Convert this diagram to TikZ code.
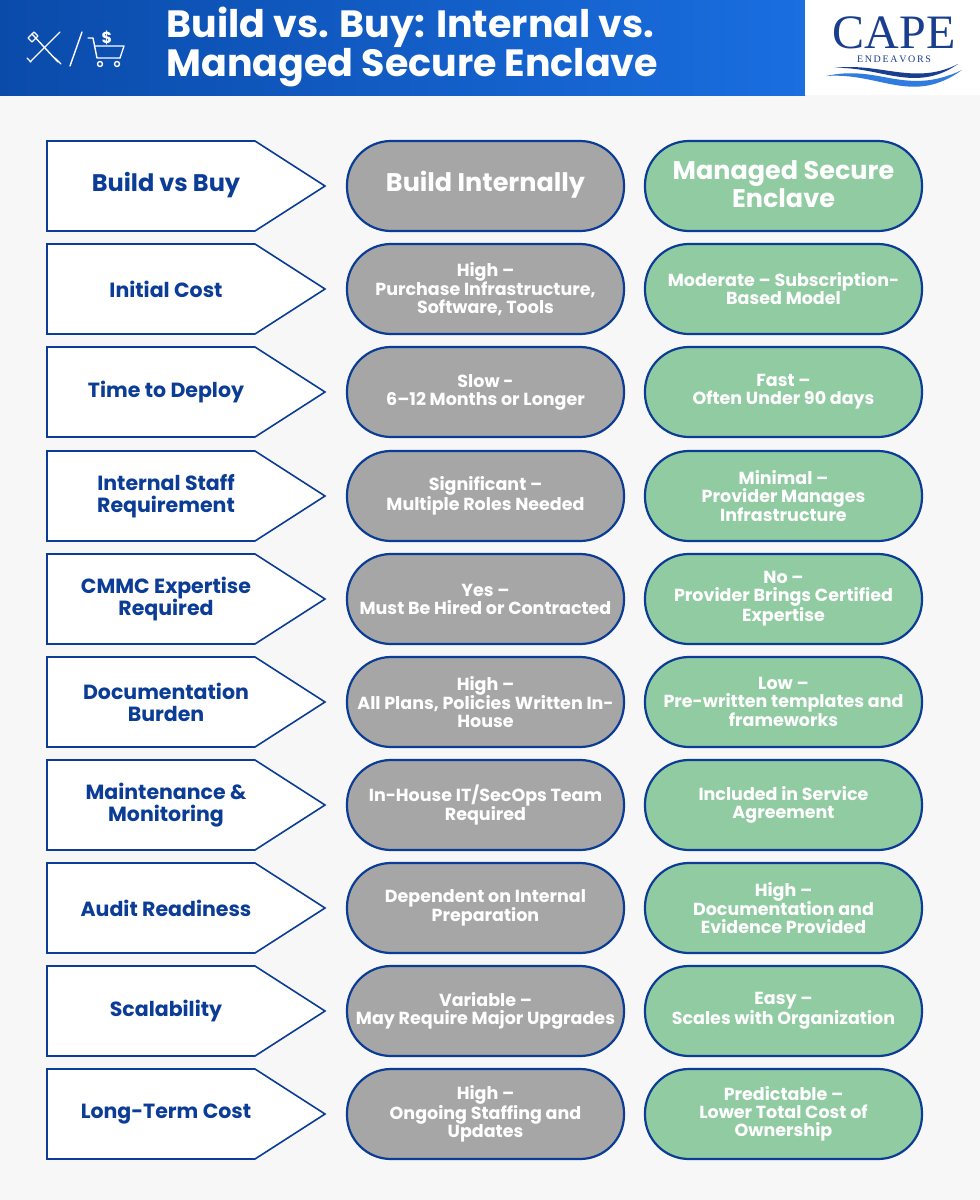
\documentclass[tikz,border=0pt]{standalone}
\usepackage{fontspec}
\setmainfont{Poppins}
\newfontfamily\seriflogo{Liberation Serif}
\usetikzlibrary{shapes.geometric}
\definecolor{navy}{HTML}{0B3C96}
\definecolor{pillgray}{HTML}{A6A6A6}
\definecolor{pillgreen}{HTML}{90CBA2}
\definecolor{bgc}{HTML}{F7F7F7}
\definecolor{hdrL}{HTML}{0A4BAA}
\definecolor{hdrR}{HTML}{1A6EE0}
\definecolor{logoblue}{HTML}{1A3E8F}
\definecolor{wave}{HTML}{2F7BE0}
\begin{document}
\begin{tikzpicture}[x=1pt,y=-1pt,
  lbl/.style={text=navy,font=\bfseries\fontsize{20.5}{22}\selectfont,align=center},
  pilltxt/.style={text=white,font=\bfseries\fontsize{17.5}{18}\selectfont,align=center},
  pillbox/.style={draw=navy,line width=2.2pt,rounded corners=44pt},
  arrowbox/.style={draw=navy,line width=1.6pt,fill=white,line join=miter}]
\useasboundingbox (0,0) rectangle (980,1200);
\fill[bgc] (0,0) rectangle (980,1200);
\shade[left color=hdrL,right color=hdrR] (0,0) rectangle (805,95);
\fill[white] (805,0) rectangle (980,95);
\node[text=white,font=\bfseries\fontsize{38}{38}\selectfont,align=left,anchor=west] (title) at (163,47) {Build vs. Buy: Internal vs.\\Managed Secure Enclave};
% icons
\begin{scope}[draw=white,line width=1.4pt,line cap=round,line join=round]
\draw (30,62) -- (60,32); \draw (27,58) -- (31,62);
\draw (32,34) -- (58,62); \draw (28,38) -- (34,32) -- (38,36) -- (32,42) -- cycle;
\draw (55,58) -- (61,64) ;
\draw (70,66) -- (82,32);
\draw (88,38) -- (93,38) -- (97,58) -- (120,58);
\draw (95,46) -- (124,46) -- (120,58);
\draw (100,64) circle (2.5); \draw (117,64) circle (2.5);
\end{scope}
\node[text=white,font=\bfseries\fontsize{16}{16}\selectfont] (dollar) at (107,38) {\$};
% logo
\node[text=logoblue,font=\seriflogo\fontsize{48}{48}\selectfont,inner sep=0pt,anchor=base] (cape) at (894,48) {CAPE};
\node[text=logoblue,font=\seriflogo\fontsize{10}{10}\selectfont,inner sep=0pt,anchor=base] (endv) at (894,62) {E\,N\,D\,E\,A\,V\,O\,R\,S};
\fill[wave] (826,76) .. controls (880,64) and (905,97) .. (962,70) .. controls (912,106) and (880,72) .. (826,76) -- cycle;
\fill[logoblue] (834,68) .. controls (880,62) and (915,86) .. (958,64) .. controls (915,94) and (880,66) .. (834,68) -- cycle;
% rows
\foreach \i/\cy/\lt/\gt/\mt in {
 0/186/{}/{}/{},
 1/289/{Initial Cost}/{High –\\Purchase Infrastructure,\\Software, Tools}/{Moderate – Subscription-\\Based Model},
 2/392/{Time to Deploy}/{Slow -\\6–12 Months or Longer}/{Fast –\\Often Under 90 days},
 3/496/{Internal Staff\\Requirement}/{Significant –\\Multiple Roles Needed}/{Minimal –\\Provider Manages\\Infrastructure},
 4/599/{CMMC Expertise\\Required}/{Yes –\\Must Be Hired or Contracted}/{No –\\Provider Brings Certified\\Expertise},
 5/702/{Documentation\\Burden}/{High –\\All Plans, Policies Written In-\\House}/{Low –\\Pre-written templates and\\frameworks},
 6/805/{Maintenance \&\\Monitoring}/{In-House IT/SecOps Team\\Required}/{Included in Service\\Agreement},
 7/908/{Audit Readiness}/{Dependent on Internal\\Preparation}/{High –\\Documentation and\\Evidence Provided},
 8/1011/{Scalability}/{Variable –\\May Require Major Upgrades}/{Easy –\\Scales with Organization},
 9/1114/{Long-Term Cost}/{High –\\Ongoing Staffing and\\Updates}/{Predictable –\\Lower Total Cost of\\Ownership}} {
 \draw[arrowbox] (47,\cy-45) -- (255,\cy-45) -- (325,\cy) -- (255,\cy+45) -- (47,\cy+45) -- cycle;
 \node[lbl] (L\i) at (166,\cy) {\lt};
 \draw[pillbox,fill=pillgray] (347,\cy-45) rectangle (624,\cy+45);
 \draw[pillbox,fill=pillgreen] (645,\cy-45) rectangle (922,\cy+45);
 \node[pilltxt] (G\i) at (485.5,\cy) {\gt};
 \node[pilltxt] (M\i) at (783.5,\cy) {\mt};
}
\node[text=navy,font=\bfseries\fontsize{24}{28}\selectfont] (h0) at (166,185) {Build vs Buy};
\node[text=white,font=\bfseries\fontsize{25.5}{28}\selectfont] (h1) at (485.5,185) {Build Internally};
\node[text=white,font=\bfseries\fontsize{25.5}{28}\selectfont,align=center] (h2) at (783.5,184) {Managed Secure\\Enclave};
\end{tikzpicture}
\end{document}
